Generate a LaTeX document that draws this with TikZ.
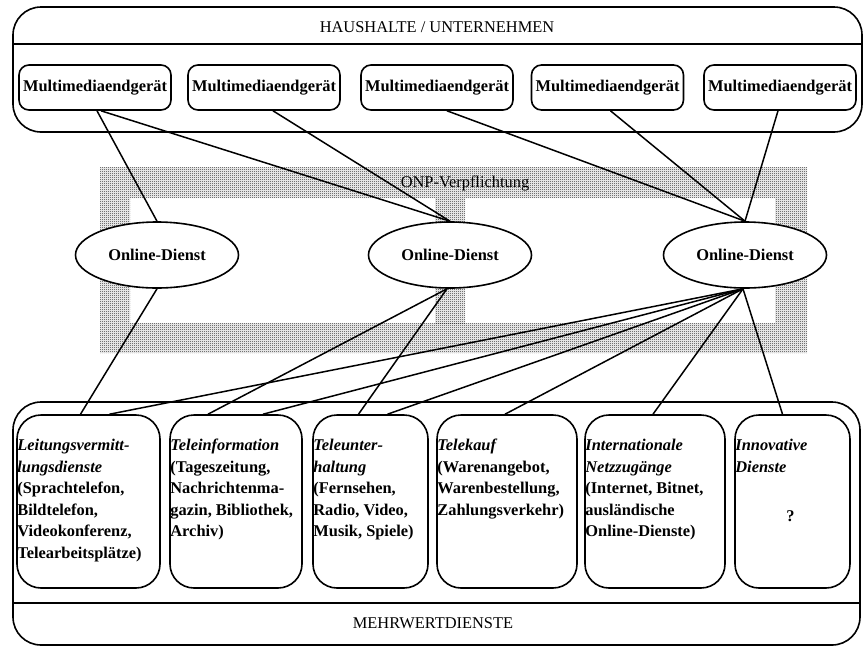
\documentclass[tikz,border=0pt]{standalone}
\usepackage{fontspec}
\setmainfont{Liberation Serif}
\usetikzlibrary{shapes.geometric,patterns}
\newcommand{\diagfont}{\fontsize{16.4}{21.5}\selectfont}
\pgfdeclarepatternformonly{ditherdots}{\pgfpointorigin}{\pgfpoint{2pt}{2pt}}{\pgfpoint{2pt}{2pt}}{
    \pgfpathrectangle{\pgfpointorigin}{\pgfpoint{1pt}{1pt}}
    \pgfpathrectangle{\pgfpoint{1pt}{1pt}}{\pgfpoint{1pt}{1pt}}
    \pgfusepath{fill}}
\tikzstyle{outerbox} = [draw=black, line width=1.6pt, rectangle,
    rounded corners=28pt, inner sep=0pt]
\tikzstyle{devbox} = [draw=black, line width=1.6pt, rectangle, rounded corners=10pt,
    minimum width=152pt, minimum height=45pt, inner sep=0pt, font=\diagfont\bfseries]
\tikzstyle{dienst} = [draw=black, line width=1.6pt, ellipse, fill=white,
    minimum width=163pt, minimum height=66pt, inner sep=0pt, font=\diagfont\bfseries]
\tikzstyle{svcbox} = [draw=black, line width=1.6pt, rectangle, rounded corners=24pt,
    minimum height=173pt, inner sep=0pt]
\tikzstyle{svctext} = [anchor=north west, align=left, inner sep=0pt, font=\diagfont\bfseries]
\tikzstyle{link} = [line width=1.5pt]
\tikzstyle{stipple} = [pattern=ditherdots, pattern color=black!85]

\begin{document}
\begin{tikzpicture}[x=1pt, y=-1pt]
\useasboundingbox (0,0) rectangle (865,649);
% ONP frame
\fill[stipple, even odd rule] (100,167) rectangle (807,353) (130,198) rectangle (775,323);
\fill[stipple] (435,198) rectangle (465,323);
\node[inner sep=0pt, font=\diagfont] (onp) at (465,183) {ONP-Verpflichtung};

% Haushalte / Unternehmen
\node[outerbox, minimum width=849pt, minimum height=125pt] (hh) at (437.5,69.5) {};
\draw[line width=1.5pt] ([yshift=-38pt]hh.north west) -- ([yshift=-38pt]hh.north east);
\node[font=\diagfont, inner sep=0pt] (hhtitle) at (437,27) {HAUSHALTE / UNTERNEHMEN};
\foreach \n/\x in {1/95, 2/264, 3/437, 4/607.5, 5/780}
    \node[devbox] (dev\n) at (\x,87.5) {Multimediaendgerät};

% Online-Dienste
\node[dienst] (e1) at (157,255) {Online-Dienst};
\node[dienst] (e2) at (450,255) {Online-Dienst};
\node[dienst] (e3) at (745,255) {Online-Dienst};

% Mehrwertdienste
\node[outerbox, minimum width=847pt, minimum height=243pt] (mw) at (436.5,523.5) {};
\draw[line width=1.5pt] ([yshift=43pt]mw.south west) -- ([yshift=43pt]mw.south east);
\node[font=\diagfont, inner sep=0pt] (mwtitle) at (433,623) {MEHRWERTDIENSTE};

\node[svcbox, minimum width=143pt] (svc1) at (88.5,501.5) {};
\node[svcbox, minimum width=132pt] (svc2) at (236,501.5) {};
\node[svcbox, minimum width=115pt] (svc3) at (370.5,501.5) {};
\node[svcbox, minimum width=140pt] (svc4) at (507,501.5) {};
\node[svcbox, minimum width=140pt] (svc5) at (655,501.5) {};
\node[svcbox, minimum width=115pt] (svc6) at (792.5,501.5) {};

\node[svctext] (txt1) at ([xshift=1pt,yshift=-25pt]svc1.north west)
    {\textit{Leitungsvermitt-}\\\textit{lungsdienste}\\(Sprachtelefon,\\Bildtelefon,\\Videokonferenz,\\Telearbeitsplätze)};
\node[svctext] (txt2) at ([xshift=1pt,yshift=-25pt]svc2.north west)
    {\textit{Teleinformation}\\(Tageszeitung,\\Nachrichtenma-\\gazin, Bibliothek,\\Archiv)};
\node[svctext] (txt3) at ([xshift=1pt,yshift=-25pt]svc3.north west)
    {\textit{Teleunter-}\\\textit{haltung}\\(Fernsehen,\\Radio, Video,\\Musik, Spiele)};
\node[svctext] (txt4) at ([xshift=1pt,yshift=-25pt]svc4.north west)
    {\textit{Telekauf}\\(Warenangebot,\\Warenbestellung,\\Zahlungsverkehr)};
\node[svctext] (txt5) at ([xshift=1pt,yshift=-25pt]svc5.north west)
    {\textit{Internationale}\\\textit{Netzzugänge}\\(Internet, Bitnet,\\ausländische\\Online-Dienste)};
\node[svctext] (txt6) at ([xshift=1pt,yshift=-25pt]svc6.north west)
    {\textit{Innovative}\\\textit{Dienste}};
\node[font=\diagfont\bfseries, inner sep=0pt] (quest) at ([xshift=-2pt,yshift=-15pt]svc6.center) {?};

% links devices -> online-dienste
\draw[link] ([xshift=2pt]dev1.south) -- (e1.north);
\draw[link] ([xshift=6pt]dev1.south) -- (e2.north);
\draw[link] ([xshift=9pt]dev2.south) -- (e2.north);
\draw[link] ([xshift=10pt]dev3.south) -- (e3.north);
\draw[link] ([xshift=3pt]dev4.south) -- (e3.north);
\draw[link] ([xshift=-2pt]dev5.south) -- (e3.north);

% links online-dienste -> mehrwertdienste
\draw[link] (e1.south) -- ([xshift=-8pt]svc1.north);
\draw[link] ([xshift=-3pt]e2.south) -- ([xshift=-28pt]svc2.north);
\draw[link] ([xshift=-3pt]e2.south) -- ([xshift=-12pt]svc3.north);
\foreach \b/\s in {svc1/21, svc2/27, svc3/17, svc4/-2, svc5/-2, svc6/-10}
    \draw[link] ([xshift=-2pt]e3.south) -- ([xshift=\s pt]\b.north);
\end{tikzpicture}
\end{document}
